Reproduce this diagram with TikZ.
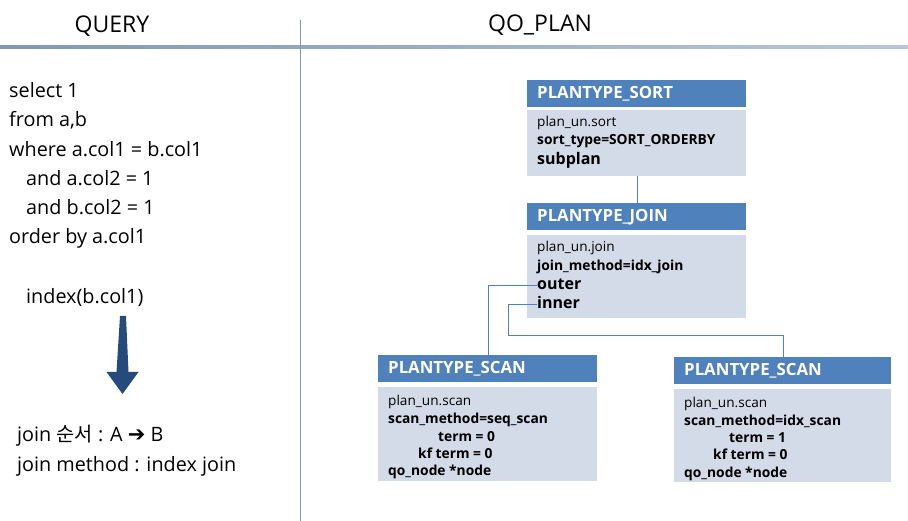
\documentclass[tikz,border=0pt]{standalone}
\usepackage{fontspec}
\setmainfont{Open Sans}
\newfontfamily\kofont{Noto Sans CJK KR}
\newfontfamily\symfont{DejaVu Sans}
\definecolor{hdrblue}{HTML}{4F81BD}
\definecolor{bodyfill}{HTML}{D3DAE8}
\definecolor{linegray}{HTML}{7F97B8}
\definecolor{arrowblue}{HTML}{254B7C}
\tikzset{
  hdr/.style={fill=hdrblue, text=white, anchor=north west, minimum height=27pt,
    inner xsep=10pt, inner ysep=0pt, text width=#1, align=left,
    font=\fontsize{16.8}{19}\selectfont\bfseries},
  bodybox/.style={fill=bodyfill, anchor=north west, inner sep=0pt},
  txt/.style={anchor=base west, inner sep=0pt, font=\fontsize{13.6}{16}\selectfont},
  btxt/.style={txt, font=\fontsize{13.8}{16}\selectfont\bfseries},
  bigtxt/.style={txt, font=\fontsize{16}{18}\selectfont\bfseries},
  qtxt/.style={anchor=base west, inner sep=0pt, font=\fontsize{19.8}{23}\selectfont},
  ttl/.style={inner sep=0pt, font=\fontsize{23}{27}\selectfont},
  conn/.style={draw=hdrblue, line width=0.9pt}
}
\begin{document}
\begin{tikzpicture}[x=1pt,y=-1pt]
\useasboundingbox (0,0) rectangle (908,521);
% frame lines
\shade[left color=linegray, right color=linegray!55] (0,46) rectangle (908,48.5);
\draw[linegray, line width=1pt] (300,20) -- (300,521);
\node[ttl] (tq) at (112,26) {QUERY};
\node[ttl] (tp) at (540,25) {QO\_PLAN};
% query text
\node[qtxt] (q1) at (9,98) {select 1};
\node[qtxt] (q2) at (9,127) {from a,b};
\node[qtxt] (q3) at (9,157) {where a.col1 = b.col1};
\node[qtxt] (q4) at (26,186) {and a.col2 = 1};
\node[qtxt] (q5) at (26,215) {and b.col2 = 1};
\node[qtxt] (q6) at (9,244) {order by a.col1};
\node[qtxt] (q7) at (26,304) {index(b.col1)};
\fill[arrowblue] (120,316) -- (126,316) -- (128.5,372) -- (138.5,372) -- (122.5,394) -- (106.5,372) -- (116.5,372) -- cycle;
\node[qtxt] (q8) at (17,441) {join {\kofont 순서} : A {\symfont\bfseries\fontsize{21}{23}\selectfont ➔} B};
\node[qtxt] (q9) at (17,471) {join method : index join};
% sort
\node[hdr=199pt] (sorth) at (527,80) {PLANTYPE\_SORT};
\node[bodybox, minimum width=219pt, minimum height=66pt] (sortb) at (527,110) {};
\node[txt] (s1) at (537,127) {plan\_un.sort};
\node[btxt] (s2) at (537,145) {sort\_type=SORT\_ORDERBY};
\node[bigtxt] (s3) at (537,165) {subplan};
% join
\node[hdr=199pt] (joinh) at (527,203) {PLANTYPE\_JOIN};
\node[bodybox, minimum width=219pt, minimum height=83pt] (joinb) at (527,235) {};
\node[txt] (j1) at (537,252) {plan\_un.join};
\node[btxt] (j2) at (537,271) {join\_method=idx\_join};
\node[bigtxt] (j3) at (537,290) {outer};
\node[bigtxt] (j4) at (537,309) {inner};
% left scan
\node[hdr=199pt] (lsh) at (378,355) {PLANTYPE\_SCAN};
\node[bodybox, minimum width=219pt, minimum height=94pt] (lsb) at (378,387) {};
\node[txt] (l1) at (388,405) {plan\_un.scan};
\node[btxt] (l2) at (388,423) {scan\_method=seq\_scan};
\node[btxt] (l3) at (438,441) {term = 0};
\node[btxt] (l4) at (418,458) {kf term = 0};
\node[btxt] (l5) at (388,475) {qo\_node *node};
% right scan
\node[hdr=197pt] (rsh) at (674,357) {PLANTYPE\_SCAN};
\node[bodybox, minimum width=217pt, minimum height=93pt] (rsb) at (674,389) {};
\node[txt] (r1) at (684,407) {plan\_un.scan};
\node[btxt] (r2) at (684,425) {scan\_method=idx\_scan};
\node[btxt] (r3) at (729,442) {term = 1};
\node[btxt] (r4) at (713,459) {kf term = 0};
\node[btxt] (r5) at (684,477) {qo\_node *node};
% connectors
\draw[conn] (sortb.south -| 637,0) -- (joinh.north -| 637,0);
\draw[conn] (j3.west |- 0,285) -- (488,285) -- (lsh.north -| 488,0);
\draw[conn] (j4.west |- 0,304) -- (508,304) -- (508,335) -- (783,335) -- (rsh.north -| 783,0);
\end{tikzpicture}
\end{document}
